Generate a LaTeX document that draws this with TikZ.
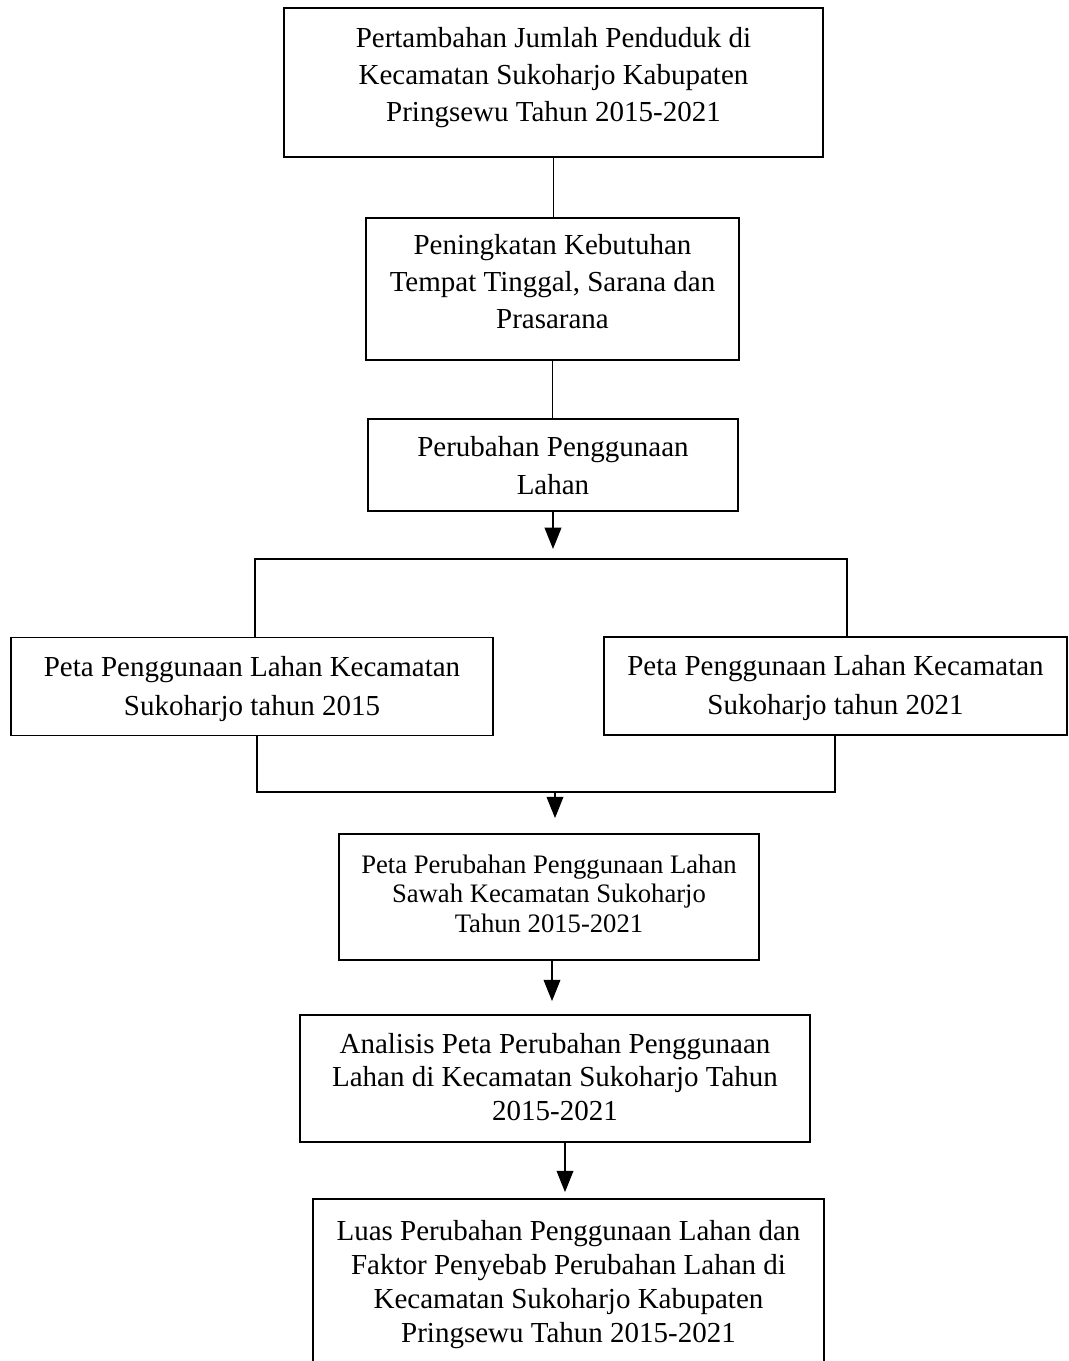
\documentclass[tikz,border=0pt]{standalone}
\usepackage{fontspec}
\setmainfont{Liberation Serif}
\usetikzlibrary{arrows.meta,calc}
\newcommand\myfA{\fontsize{21.75pt}{28.1pt}\selectfont}
\newcommand\myfB{\fontsize{21.75pt}{27.4pt}\selectfont}
\newcommand\myfC{\fontsize{21.75pt}{28.5pt}\selectfont}
\newcommand\myfD{\fontsize{21.75pt}{29.25pt}\selectfont}
\newcommand\myfE{\fontsize{20pt}{22.1pt}\selectfont}
\newcommand\myfF{\fontsize{21.75pt}{25.1pt}\selectfont}
\newcommand\myfG{\fontsize{21.75pt}{25.5pt}\selectfont}
\begin{document}
\begin{tikzpicture}[x=0.75pt,y=-0.75pt,
  line width=1.3pt,
  box/.style 2 args={draw, rectangle, inner sep=0pt, minimum width=#1*0.75pt, minimum height=#2*0.75pt},
  txt/.style={align=center, inner sep=0pt},
  arr/.style={-{Triangle[length=16pt,width=12.5pt]}}]
\useasboundingbox (0,0) rectangle (1069,1361);
\fill[white] (0,0) rectangle (1069,1361);
\clip (0,0) rectangle (1069,1361);

\node[box={539}{149}, label={[txt,font=\myfA,yshift=4.1pt]center:{\strut Pertambahan Jumlah Penduduk di\\\strut Kecamatan Sukoharjo Kabupaten\\\strut Pringsewu Tahun 2015-2021}}] (b1) at (553.5,82.5) {};
\node[box={373}{142}, label={[txt,font=\myfB,yshift=3.6pt]center:{\strut Peningkatan Kebutuhan\\\strut Tempat Tinggal, Sarana dan\\\strut Prasarana}}] (b2) at (552.5,289) {};
\node[box={370}{92}, label={[txt,font=\myfC,yshift=-2.5pt]center:{\strut Perubahan Penggunaan\\\strut Lahan}}] (b3) at (553,465) {};
\node[box={482}{98}, label={[txt,font=\myfD,yshift=-0.9pt]center:{\strut Peta Penggunaan Lahan Kecamatan\\\strut Sukoharjo tahun 2015}}] (lb) at (252,686.5) {};
\node[box={463}{98}, label={[txt,font=\myfD,yshift=-0.9pt]center:{\strut Peta Penggunaan Lahan Kecamatan\\\strut Sukoharjo tahun 2021}}] (rb) at (835.5,686) {};
\node[box={420}{126}, label={[txt,font=\myfE,yshift=0pt]center:{\strut Peta Perubahan Penggunaan Lahan\\\strut Sawah Kecamatan Sukoharjo\\\strut Tahun 2015-2021}}] (b4) at (549,897) {};
\node[box={510}{127}, label={[txt,font=\myfF,yshift=-1pt]center:{\strut Analisis Peta Perubahan Penggunaan\\\strut Lahan di Kecamatan Sukoharjo Tahun\\\strut 2015-2021}}] (b5) at (555,1078.5) {};
\node[box={511}{200}, label={[txt,font=\myfG,yshift=11.1pt]center:{\strut Luas Perubahan Penggunaan Lahan dan\\\strut Faktor Penyebab Perubahan Lahan di\\\strut Kecamatan Sukoharjo Kabupaten\\\strut Pringsewu Tahun 2015-2021}}] (b6) at (568.5,1299) {};

\coordinate (sp) at (553,559);
\coordinate (sL) at (255,559);
\coordinate (sR) at (847,559);
\coordinate (jL) at (257,792);
\coordinate (jR) at (835,792);
\coordinate (jm) at (555,792);

\draw (b1.south) -- (b1.south |- b2.north);
\draw (b2.south) -- (b2.south |- b3.north);
\draw[arr, shorten >=7.5pt] (b3.south) -- (b3.south |- sp);
\draw (lb.north -| sL) -- (sL) -- (sR) -- (rb.north -| sR);
\draw (lb.south -| jL) -- (jL) -- (jR) -- (rb.south -| jR);
\draw[arr, shorten >=11.25pt] (jm) -- (jm |- b4.north);
\draw[arr, shorten >=9.75pt] ($(b4.south)+(3,0)$) -- ($(b4.south |- b5.north)+(3,0)$);
\draw[arr, shorten >=4.5pt] ($(b5.south)+(10,0)$) -- ($(b5.south |- b6.north)+(10,0)$);
\end{tikzpicture}
\end{document}
